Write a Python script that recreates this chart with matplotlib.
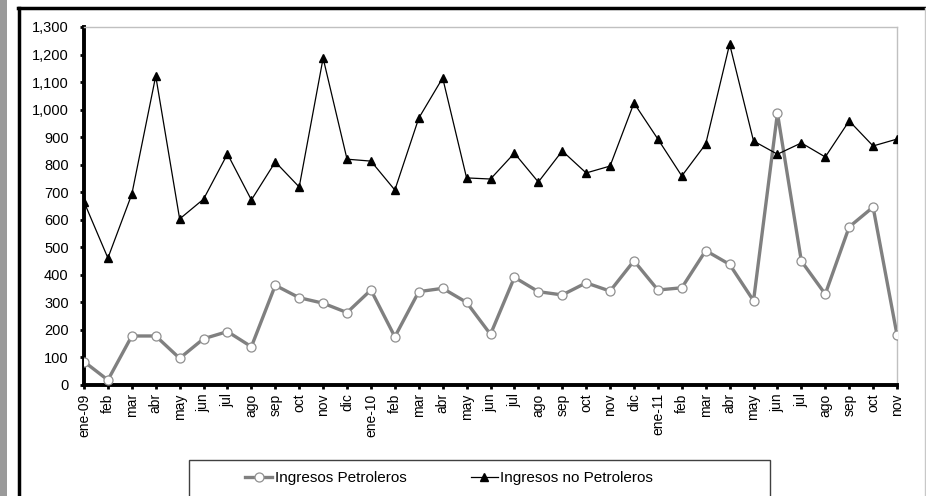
import matplotlib
matplotlib.use("Agg")
import matplotlib.pyplot as plt
from matplotlib.patches import Rectangle
from matplotlib.lines import Line2D

plt.rcParams['font.family'] = ['Liberation Sans', 'DejaVu Sans']

# === data (millones) ===
meses = ["ene-09", "feb", "mar", "abr", "may", "jun", "jul", "ago", "sep", "oct", "nov", "dic",
         "ene-10", "feb", "mar", "abr", "may", "jun", "jul", "ago", "sep", "oct", "nov", "dic",
         "ene-11", "feb", "mar", "abr", "may", "jun", "jul", "ago", "sep", "oct", "nov"]

petroleros = [85, 18, 178, 178, 97, 168, 194, 139, 362, 317, 297, 263,
              345, 175, 339, 351, 300, 184, 391, 339, 327, 371, 341, 451,
              345, 353, 488, 438, 306, 987, 450, 330, 574, 646, 182]

no_petroleros = [665, 461, 693, 1122, 603, 675, 839, 672, 810, 719, 1187, 820,
                 813, 708, 969, 1115, 752, 748, 842, 737, 850, 770, 795, 1024,
                 893, 759, 875, 1238, 886, 838, 879, 828, 959, 868, 893]

yticks = list(range(0, 1301, 100))

W, H = 926, 496
fig = plt.figure(figsize=(W / 100, H / 100), dpi=100)
fig.patch.set_facecolor("white")

# outer frame bits
fig.add_artist(Rectangle((0, 0), 7 / W, 1, transform=fig.transFigure,
                         facecolor="#9a9a9a", edgecolor="none"))
fig.add_artist(Line2D([18 / W, 1], [1 - 8 / H, 1 - 8 / H], transform=fig.transFigure,
                      color="black", lw=2.5))
fig.add_artist(Line2D([19 / W, 19 / W], [0, 1 - 8 / H], transform=fig.transFigure,
                      color="black", lw=2.5))
fig.add_artist(Line2D([925 / W, 925 / W], [0, 1 - 8 / H], transform=fig.transFigure,
                      color="#c8c8c8", lw=1))

ax = fig.add_axes([84 / W, 1 - 385 / H, (897 - 84) / W, (385 - 27) / H])
x = list(range(len(meses)))

ax.plot(x, petroleros, color="#808080", lw=2.4, marker="o", markersize=6.5,
        markerfacecolor="white", markeredgecolor="#909090", markeredgewidth=0.9,
        label="Ingresos Petroleros", zorder=3)
ax.plot(x, no_petroleros, color="black", lw=0.9, marker="^", markersize=6,
        markerfacecolor="black", markeredgecolor="black",
        label="Ingresos no Petroleros", zorder=4)

ax.set_xlim(0, len(meses) - 1)
ax.set_ylim(0, 1300)
ax.set_xticks(x)
ax.set_xticklabels(meses, rotation=90, fontsize=10)
ax.set_yticks(yticks)
ax.set_yticklabels([f"{v:,}" for v in yticks], fontsize=10.5)
ax.tick_params(axis="both", direction="out", length=3, width=2, pad=3)
ax.tick_params(axis="y", pad=8)

for side in ["left", "bottom"]:
    ax.spines[side].set_linewidth(2.8)
    ax.spines[side].set_color("black")
for side in ["top", "right"]:
    ax.spines[side].set_linewidth(1)
    ax.spines[side].set_color("#c0c0c0")
for s in ax.spines.values():
    s.set_clip_on(False)

# legend box
fig.add_artist(Rectangle((189 / W, -0.01), (770 - 189) / W, 1 - 460 / H + 0.01,
                         transform=fig.transFigure, facecolor="white",
                         edgecolor="#404040", lw=1))
fig.legend(loc="center", bbox_to_anchor=(449 / W, 1 - 478 / H), ncol=2,
           frameon=False, fontsize=11, handlelength=1.8, columnspacing=4.2,
           handletextpad=0.15)

plt.savefig("out.png", dpi=100)
